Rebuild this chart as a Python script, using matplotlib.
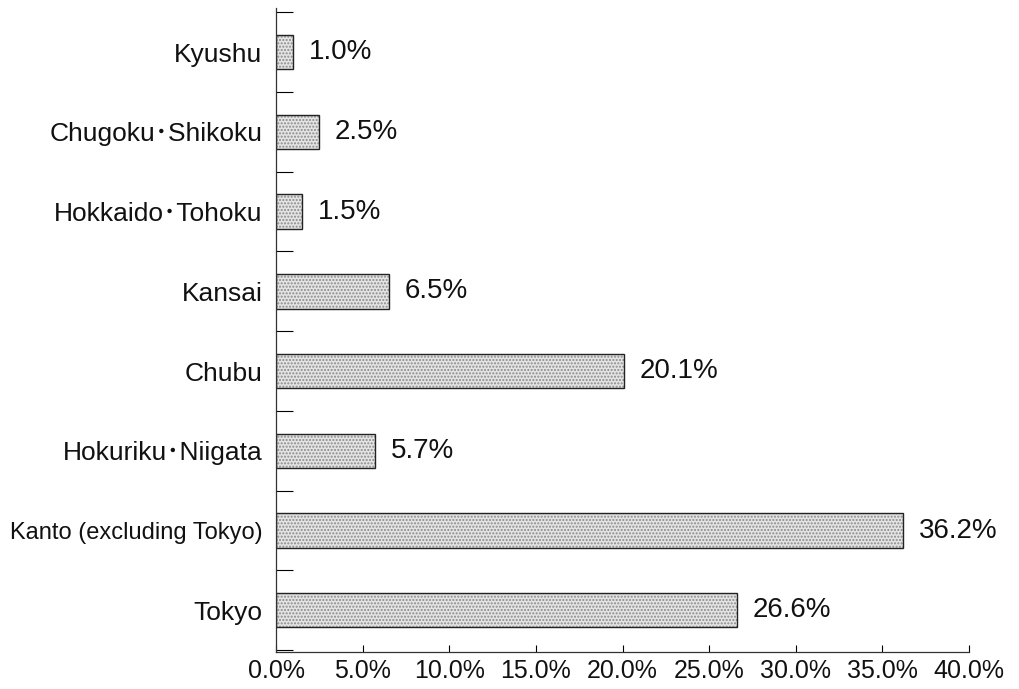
import numpy as np
import matplotlib
matplotlib.use('Agg')
import matplotlib.pyplot as plt
from matplotlib.ticker import MultipleLocator

plt.rcParams['font.family'] = ['Liberation Sans', 'Noto Sans CJK JP', 'DejaVu Sans']

# data (bottom to top)
regions = ['Tokyo', 'Kanto (excluding Tokyo)', 'Hokuriku･Niigata', 'Chubu',
           'Kansai', 'Hokkaido･Tohoku', 'Chugoku･Shikoku', 'Kyushu']
shares = [26.6, 36.2, 5.7, 20.1, 6.5, 1.5, 2.5, 1.0]
xticks = [0, 5, 10, 15, 20, 25, 30, 35, 40]

fig = plt.figure(figsize=(10.19, 6.89), dpi=100)
ax = fig.add_axes([0.271, 0.054, 0.68, 0.934])

y = np.arange(len(regions))
plt.rcParams['hatch.color'] = '#8a8a8a'
ax.barh(y, shares, height=0.43, color='#e4e4e4', hatch='.....',
        edgecolor='#8a8a8a', linewidth=0)
ax.barh(y, shares, height=0.43, fill=False, edgecolor='#222222', linewidth=1.0)

for yi, v in zip(y, shares):
    ax.text(v + 0.9, yi, '%.1f%%' % v, va='center', ha='left', fontsize=20,
            color='#111111')

ax.set_xlim(0, 40)
ax.set_ylim(-0.52, 7.55)
ax.set_xticks(xticks)
ax.set_xticklabels(['%.1f%%' % t for t in xticks], fontsize=18, color='#111111')
ax.set_yticks(y)
ax.set_yticklabels(regions, fontsize=19, color='#111111')
ax.get_yticklabels()[1].set_fontsize(17)
ax.yaxis.set_minor_locator(MultipleLocator(1, offset=0.5))

ax.tick_params(axis='y', which='major', length=0, pad=10)
ax.tick_params(axis='y', which='minor', direction='in', length=12, width=0.8)
ax.tick_params(axis='x', which='major', direction='in', length=5, width=0.8, pad=5)

for s in ['top', 'right']:
    ax.spines[s].set_visible(False)
for s in ['left', 'bottom']:
    ax.spines[s].set_linewidth(0.9)
    ax.spines[s].set_color('#333333')

fig.savefig('out.png', dpi=100)
